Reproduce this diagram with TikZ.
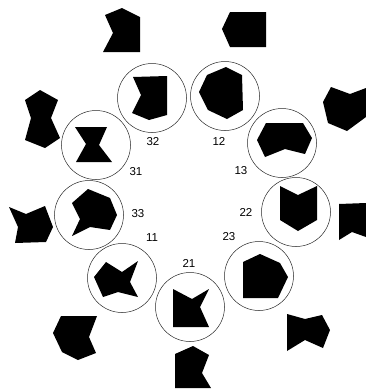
\documentclass[tikz,border=0pt]{standalone}
\usepackage{fontspec}
\setsansfont{Liberation Sans}
\usetikzlibrary{positioning}

\begin{document}
\begin{tikzpicture}[
    x=1pt, y=-1pt,
    font=\sffamily,
    ring/.style={circle, draw=black!85, line width=0.5pt, minimum size=69pt, inner sep=0pt},
    tag/.style={font=\sffamily\fontsize{11.5}{11.5}\selectfont, inner sep=0pt},
    blob/.style={fill=black, line join=round},
  ]
  \useasboundingbox (0,0) rectangle (366,389);

  % Rings and their numbers.
  \foreach \n/\cx/\cy/\lx/\ly in {
      32/152/98/153/142, 12/225/96/219/141, 13/282/143/241/171,
      22/296/212/246/212, 23/259/276/229/237, 21/190/307/189/263,
      11/122/278/152/238, 33/89/215/138/214, 31/96/145/136/172} {
    \node[ring] (ring\n) at (\cx,\cy) {};
    \node[tag] (lab\n) at (\lx,\ly) {\n};
  }

  % Shapes inside the rings.
  \fill[blob] (133,77) -- (167,76) -- (167,115) -- (149,120) -- (132,113) -- (141,95) -- cycle;
  \fill[blob] (226,67) -- (242,75) -- (243,110) -- (227,119) -- (208,110) -- (199,92) -- (207,75) -- cycle;
  \fill[blob] (266,123) -- (303,123) -- (312,138) -- (305,154) -- (285,149) -- (265,157) -- (257,140) -- cycle;
  \fill[blob] (280,186) -- (298,195) -- (317,186) -- (317,220) -- (298,231) -- (280,220) -- cycle;
  \fill[blob] (243,262) -- (260,254) -- (280,263) -- (288,277) -- (278,298) -- (243,298) -- cycle;
  \fill[blob] (173,289) -- (192,299) -- (209,289) -- (200,307) -- (209,327) -- (173,327) -- cycle;
  \fill[blob] (94,277) -- (106,262) -- (122,272) -- (138,261) -- (130,282) -- (138,297) -- (118,292) -- (103,297) -- cycle;
  \fill[blob] (72,203) -- (88,189) -- (110,198) -- (117,215) -- (110,230) -- (90,227) -- (72,236) -- (80,219) -- cycle;
  \fill[blob] (75,127) -- (107,127) -- (99,145) -- (112,162) -- (76,162) -- (86,144) -- cycle;

  % Shapes outside the rings.
  \fill[blob] (105,15) -- (122,8) -- (140,17) -- (140,52) -- (103,52) -- (113,33) -- cycle;
  \fill[blob] (230,12) -- (266,12) -- (266,47) -- (230,47) -- (222,29) -- cycle;
  \fill[blob] (323,102) -- (331,87) -- (350,94) -- (366,88) -- (366,117) -- (347,131) -- (328,123) -- cycle;
  \fill[blob] (339,204) -- (366,203) -- (366,237) -- (352,232) -- (339,240) -- cycle;
  \fill[blob] (287,314) -- (305,319) -- (322,315) -- (330,330) -- (323,348) -- (305,340) -- (287,351) -- cycle;
  \fill[blob] (175,354) -- (193,346) -- (209,355) -- (202,373) -- (211,388) -- (175,388) -- cycle;
  \fill[blob] (61,316) -- (97,316) -- (89,337) -- (96,353) -- (78,360) -- (62,352) -- (53,333) -- cycle;
  \fill[blob] (9,207) -- (26,214) -- (45,206) -- (53,227) -- (46,242) -- (15,243) -- (18,227) -- cycle;
  \fill[blob] (25,100) -- (40,90) -- (58,100) -- (51,118) -- (60,138) -- (45,148) -- (25,140) -- (31,118) -- cycle;
\end{tikzpicture}
\end{document}
